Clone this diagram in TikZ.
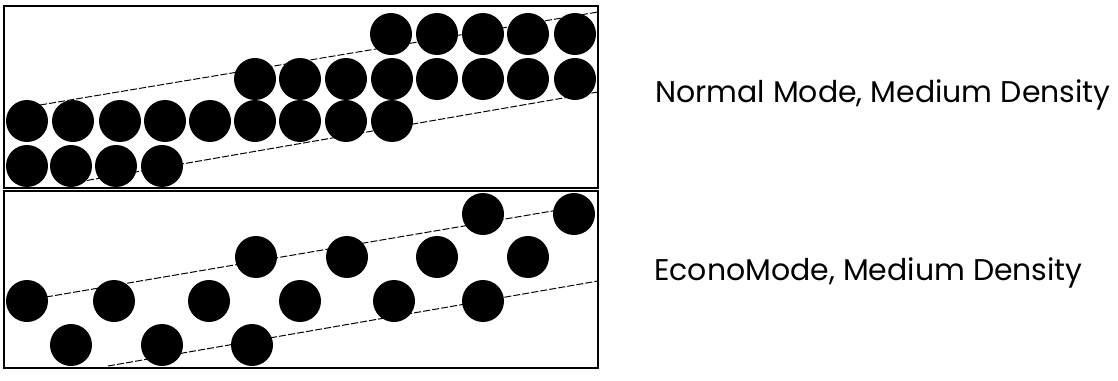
\documentclass[tikz,border=0pt]{standalone}
\usepackage{fontspec}
\newfontfamily\gotica{Poppins}
\tikzset{
  punto/.style={fill=black},
  guia/.style={line width=0.7pt, dash pattern=on 5pt off 1.5pt},
  marco/.style={line width=1.8pt},
  rotulo/.style={anchor=base west, inner sep=0pt, font=\gotica\fontsize{21.3}{25}\selectfont}
}

\begin{document}
\begin{tikzpicture}[x=0.025cm, y=-0.025cm]
	\useasboundingbox (0,0) rectangle (1118,381);
	
	% Marcos de los dos recuadros (modo normal arriba, EconoMode abajo)
	\draw[marco] (4,6) rectangle (598,188);
	\draw[marco] (4,191) rectangle (598,368);
	
	% Líneas guía punteadas del recuadro superior
	\draw[guia] (40,105) -- (598,12);
	\draw[guia] (78,182) -- (598,92);
	
	% Líneas guía punteadas del recuadro inferior
	\draw[guia] (46,297) -- (570,208);
	\draw[guia] (108,366) -- (598,281);
	
	% Puntos del recuadro superior (densidad completa, fila por fila)
	\foreach \x in {391,437,483,528,575} \fill[punto] (\x,34) circle[radius=21];
	\foreach \x in {255,300,346,392,437,483,528,575} \fill[punto] (\x,79) circle[radius=21];
	\foreach \x in {27,73,120,165,210,255,300,346,392} \fill[punto] (\x,121) circle[radius=21];
	\foreach \x in {27,71,116,162} \fill[punto] (\x,166) circle[radius=21];
	
	% Puntos del recuadro inferior (EconoMode, uno sí y uno no)
	\foreach \x in {483,574} \fill[punto] (\x,214) circle[radius=21];
	\foreach \x in {256,347,437,528} \fill[punto] (\x,257) circle[radius=21];
	\foreach \x in {27,114,209,300,394,483} \fill[punto] (\x,301) circle[radius=21];
	\foreach \x in {71,162,252} \fill[punto] (\x,345) circle[radius=21];
	
	% Rótulos de cada recuadro
	\node[rotulo] (normal) at (655,102) {Normal Mode, Medium Density};
	\node[rotulo] (econo) at (654,280) {EconoMode, Medium Density};
	
\end{tikzpicture}
\end{document}
